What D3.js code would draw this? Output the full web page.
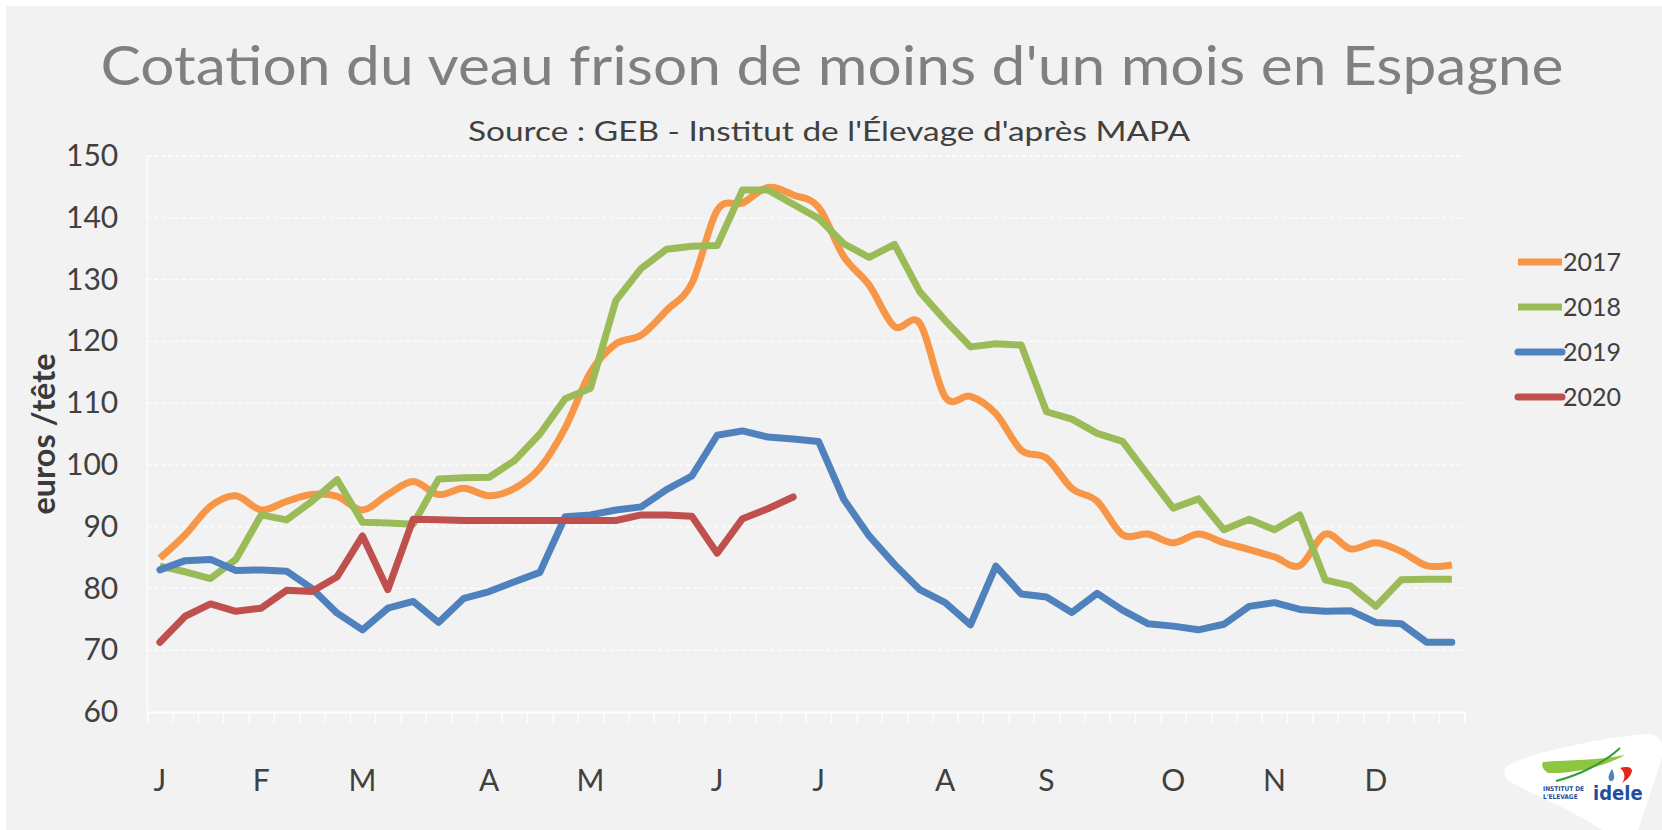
<!DOCTYPE html>
<html>
<head>
<meta charset="utf-8">
<script src="https://cdn.jsdelivr.net/npm/d3@7"></script>
<style>
  body { margin: 0; background: #ffffff; }
  svg { display: block; font-family: "Century Gothic", Lato, "Open Sans", sans-serif; }
</style>
</head>
<body>
<div id="chart"></div>
<script>
const width = 1662;
const height = 830;

// weekly categories, month letter shown on the first week of each month
const weeks = d3.range(1, 53);
const monthLabels = ["J", "F", "M", "A", "M", "J", "J", "A", "S", "O", "N", "D"];
const monthWeeks = [1, 5, 9, 14, 18, 23, 27, 32, 36, 41, 45, 49];
const yTicks = [60, 70, 80, 90, 100, 110, 120, 130, 140, 150];

const values2017 = [84.9, 88.7, 93.3, 95.0, 92.7, 94.1, 95.2, 94.9, 92.7, 95.2, 97.3, 95.2, 96.2,
  95.0, 96.2, 99.5, 106.0, 115.0, 119.6, 121.0, 125.0, 129.4, 141.2, 142.4, 144.9, 143.7,
  141.7, 133.7, 129.1, 122.4, 122.9, 111.0, 111.1, 108.3, 102.4, 101.1, 96.2, 94.1, 88.7,
  88.8, 87.4, 88.8, 87.4, 86.3, 85.1, 83.7, 88.8, 86.4, 87.4, 86.0, 83.7, 83.8];
const values2018 = [83.6, 82.7, 81.6, 84.7, 91.9, 91.1, 94.1, 97.6, 90.7, 90.6, 90.4, 97.7, 97.9,
  98.0, 100.7, 105.0, 110.7, 112.4, 126.6, 131.8, 134.9, 135.4, 135.5, 144.5, 144.5, 142.2,
  139.9, 135.8, 133.6, 135.7, 128.0, 123.4, 119.1, 119.6, 119.4, 108.6, 107.4, 105.1, 103.8,
  98.4, 93.0, 94.5, 89.5, 91.2, 89.5, 91.9, 81.4, 80.4, 77.1, 81.4, 81.5, 81.5];
const values2019 = [83.0, 84.5, 84.7, 82.9, 83.0, 82.8, 80.0, 76.0, 73.3, 76.8, 77.9, 74.5, 78.4,
  79.5, 81.1, 82.6, 91.6, 91.9, 92.7, 93.2, 96.0, 98.2, 104.8, 105.5, 104.5, 104.2,
  103.8, 94.4, 88.5, 83.9, 79.8, 77.7, 74.1, 83.6, 79.1, 78.6, 76.1, 79.2, 76.5,
  74.3, 73.9, 73.3, 74.2, 77.1, 77.7, 76.6, 76.3, 76.4, 74.5, 74.3, 71.3, 71.3];
const values2020 = [71.3, 75.5, 77.5, 76.3, 76.8, 79.7, 79.5, 81.9, 88.5, 79.8, 91.2, 91.1, 91.0,
  91.0, 91.0, 91.0, 91.0, 91.0, 91.0, 91.9, 91.9, 91.7, 85.7, 91.3, 92.9, 94.8];

const series = [
  { name: "2017", values: values2017, color: "#f79646", cap: "butt", smooth: true },
  { name: "2018", values: values2018, color: "#9bbb59", cap: "butt", smooth: false },
  { name: "2019", values: values2019, color: "#4f81bd", cap: "round", smooth: false },
  { name: "2020", values: values2020, color: "#c0504d", cap: "round", smooth: false }
];

const plot = { left: 147.2, right: 1464.5, top: 156, bottom: 712 };

const svg = d3.select("#chart")
  .append("svg")
  .attr("width", width)
  .attr("height", height);

svg.append("rect")
  .attr("x", 6).attr("y", 6)
  .attr("width", width - 6).attr("height", height - 6)
  .attr("fill", "#f2f2f2");

const x = d3.scaleBand()
  .domain(weeks)
  .range([plot.left, plot.right]);

const xEdges = d3.scaleLinear()
  .domain([0, weeks.length])
  .range([plot.left, plot.right]);

const y = d3.scaleLinear()
  .domain([60, 150])
  .range([plot.bottom, plot.top]);

const cx = w => x(w) + x.bandwidth() / 2;

// dashed gridlines
svg.append("g")
  .selectAll("line")
  .data(yTicks.filter(v => v > 60))
  .join("line")
  .attr("x1", plot.left).attr("x2", plot.right)
  .attr("y1", d => y(d)).attr("y2", d => y(d))
  .attr("stroke", "#ffffff")
  .attr("stroke-width", 1.3)
  .attr("stroke-dasharray", "4,3");

// vertical axis line
svg.append("line")
  .attr("x1", plot.left).attr("x2", plot.left)
  .attr("y1", plot.top).attr("y2", plot.bottom)
  .attr("stroke", "#ffffff")
  .attr("stroke-width", 1.3);

// horizontal axis with ticks between categories
const xAxis = svg.append("g")
  .attr("transform", `translate(0,${plot.bottom})`)
  .call(d3.axisBottom(xEdges)
    .tickValues(d3.range(0, weeks.length + 1))
    .tickSize(11)
    .tickFormat(""));
xAxis.select(".domain").attr("stroke", "#ffffff").attr("stroke-width", 2);
xAxis.selectAll(".tick line").attr("stroke", "#ffffff").attr("stroke-width", 1.3);

// month letters
svg.append("g")
  .selectAll("text")
  .data(monthWeeks)
  .join("text")
  .attr("x", d => cx(d))
  .attr("y", 791)
  .attr("text-anchor", "middle")
  .attr("font-size", 30)
  .attr("fill", "#404040")
  .text((d, i) => monthLabels[i]);

// y axis labels
const yAxis = svg.append("g")
  .attr("transform", `translate(${plot.left},0)`)
  .call(d3.axisLeft(y).tickValues(yTicks).tickSize(0).tickPadding(29));
yAxis.select(".domain").remove();
yAxis.selectAll("text")
  .attr("font-size", 30)
  .attr("font-family", "\"Century Gothic\", Lato, \"Open Sans\", sans-serif")
  .attr("fill", "#404040");

svg.append("text")
  .attr("transform", `translate(55,434) rotate(-90)`)
  .attr("text-anchor", "middle")
  .attr("font-size", 32)
  .attr("font-weight", "bold")
  .attr("fill", "#3a3a3a")
  .attr("textLength", 161)
  .attr("lengthAdjust", "spacingAndGlyphs")
  .text("euros /tête");

// series lines
series.forEach(s => {
  const line = d3.line()
    .x((d, i) => cx(weeks[i]))
    .y(d => y(d))
    .curve(s.smooth ? d3.curveCatmullRom.alpha(0) : d3.curveLinear);
  svg.append("path")
    .datum(s.values)
    .attr("d", line)
    .attr("fill", "none")
    .attr("stroke", s.color)
    .attr("stroke-width", 7)
    .attr("stroke-linejoin", "round")
    .attr("stroke-linecap", s.cap);
});

// legend
const legend = svg.append("g")
  .selectAll("g")
  .data(series)
  .join("g")
  .attr("transform", (d, i) => `translate(1518,${262 + i * 45})`);
legend.append("line")
  .attr("x1", 0).attr("x2", 44)
  .attr("stroke", d => d.color)
  .attr("stroke-width", 7)
  .attr("stroke-linecap", d => d.cap);
legend.append("text")
  .attr("x", 45)
  .attr("dy", "0.36em")
  .attr("font-size", 25)
  .attr("fill", "#404040")
  .text(d => d.name);

// titles
svg.append("text")
  .attr("x", 832).attr("y", 85)
  .attr("text-anchor", "middle")
  .attr("font-size", 55)
  .attr("fill", "#808080")
  .attr("textLength", 1463)
  .attr("lengthAdjust", "spacingAndGlyphs")
  .text("Cotation du veau frison de moins d'un mois en Espagne");

svg.append("text")
  .attr("x", 829).attr("y", 141)
  .attr("text-anchor", "middle")
  .attr("font-size", 26)
  .attr("fill", "#404040")
  .attr("textLength", 722)
  .attr("lengthAdjust", "spacingAndGlyphs")
  .text("Source : GEB - Institut de l'Élevage d'après MAPA");

// idele logo in the corner
const logo = svg.append("g");
logo.append("path")
  .attr("d", "M1504,770 C1510,756 1600,738 1645,734 C1662,733 1666,746 1660,764 L1638,830 L1602,830 C1570,808 1522,790 1506,779 Z")
  .attr("fill", "#ffffff");
logo.append("path")
  .attr("d", "M1543,762 C1570,760 1600,760 1625,755 C1605,766 1575,774 1548,773 C1543,770 1541,765 1543,762 Z")
  .attr("fill", "#8dc63f");
logo.append("path")
  .attr("d", "M1556,781 C1580,775 1605,762 1620,748")
  .attr("fill", "none")
  .attr("stroke", "#3a9a3a")
  .attr("stroke-width", 2);
logo.append("path")
  .attr("d", "M1612,769 C1609,774 1607,778 1610,781 C1614,782 1616,777 1612,769 Z")
  .attr("fill", "#4f81bd");
logo.append("path")
  .attr("d", "M1620,768 C1626,766 1632,767 1632,771 C1631,776 1627,780 1622,783 C1626,778 1625,772 1620,768 Z")
  .attr("fill", "#e1261c");
logo.append("text")
  .attr("x", 1543).attr("y", 791)
  .attr("font-size", 6.5).attr("font-weight", "bold")
  .attr("font-family", "\"DejaVu Sans Condensed\", \"Liberation Sans Narrow\", sans-serif")
  .attr("fill", "#1f4e9c")
  .text("INSTITUT DE");
logo.append("text")
  .attr("x", 1543).attr("y", 799)
  .attr("font-size", 6.5).attr("font-weight", "bold")
  .attr("font-family", "\"DejaVu Sans Condensed\", \"Liberation Sans Narrow\", sans-serif")
  .attr("fill", "#1f4e9c")
  .text("L'ELEVAGE");
logo.append("text")
  .attr("x", 1593).attr("y", 800)
  .attr("font-size", 20).attr("font-weight", "bold")
  .attr("font-family", "\"Liberation Sans Narrow\", \"DejaVu Sans Condensed\", sans-serif")
  .attr("fill", "#1f4e9c")
  .text("idele");
</script>
</body>
</html>
